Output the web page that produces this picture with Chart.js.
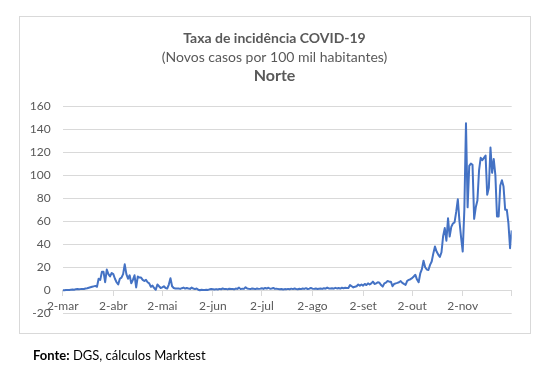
<!DOCTYPE html>
<html>
<head>
<meta charset="utf-8">
<script src="https://cdn.jsdelivr.net/npm/chart.js@4/dist/chart.umd.min.js"></script>
<style>
  body { margin: 0; background: #fff; width: 552px; height: 378px; position: relative; overflow: hidden; }
  #box { position: absolute; left: 19px; top: 16px; width: 510px; height: 316px; border: 1px solid #d9d9d9; }
  #chart { position: absolute; left: 0; top: 0; }
  #fonte { position: absolute; left: 33px; top: 347px; font: 13px/16px Lato, 'Open Sans', sans-serif; color: #000; }
</style>
</head>
<body>
<div id="box"></div>
<canvas id="chart" width="552" height="378"></canvas>
<div id="fonte"><b>Fonte:</b> DGS, cálculos Marktest</div>
<script>
// novos casos por 100 mil habitantes, Norte, um valor por dia
const mar = [0, 0, 0.2, 0.3, 0.3, 0.5, 0.6, 0.5, 0.8, 1, 0.9, 1, 1.2, 1.1, 1.5, 1.8, 2.2, 2.6, 3, 3.4, 3.8, 3, 10, 9, 16, 16, 7, 18, 14, 12] // 2 a 31
const abr = [15, 14, 10, 7, 5, 10, 11, 14, 22.5, 14, 10, 13, 6, 9, 13, 2.5, 12, 11, 11, 9, 8, 9, 7, 6, 3, 4, 2, 0.5, 5, 3.5]
const mai = [2, 2.5, 3.5, 2, 1.5, 5, 10.5, 3.5, 2, 1.5, 1.5, 1.5, 1.2, 1.8, 2.3, 1.5, 2, 1.5, 1.2, 2.3, 1.5, 1, 1.5, 0.5, 0, 0.5, 0.3, 0.2, 0.5, 0.3, 0.8]
const jun = [1, 0.8, 0.6, 1, 0.7, 1.2, 0.9, 1.5, 1, 1.2, 0.8, 1.4, 1.1, 1, 0.8, 1.5, 1.2, 2.3, 1, 1.4, 1.2, 2.6, 1.5, 1.2, 1, 1.6, 1.3, 1, 1.5, 1.2]
const jul = [1.4, 1.8, 1.2, 2, 1.5, 2.2, 1.3, 1.6, 2, 1.2, 1.4, 1, 0.8, 1.1, 0.7, 1, 0.8, 1.2, 0.9, 1.4, 1, 1.5, 1.1, 0.9, 1.3, 1, 1.6, 1.2, 1.8, 1.1, 1.4]
const ago = [2, 1.4, 1.2, 1.6, 1.1, 1.3, 1.5, 1.2, 1.8, 1.4, 2.3, 1.6, 1.5, 1.8, 1.4, 2.1, 1.6, 1.9, 1.5, 2.2, 1.8, 2.1, 2, 2, 4.5, 3.5, 2.5, 3, 3.5, 5, 4]
const set = [5, 4, 5.5, 4.5, 6, 5, 6, 7.5, 5.5, 6, 7, 6.5, 4.5, 3.2, 6, 6.7, 8, 7.5, 7.5, 3.5, 5.5, 6, 6.4, 7, 8, 6.4, 5.5, 4.7, 8.2, 9]
const out = [9.6, 10.5, 12, 13.4, 9.3, 7, 14.6, 18.4, 25.6, 20, 18, 17.6, 22, 25, 32, 38, 33.6, 31, 29, 33, 47, 54, 43, 62.5, 46.6, 55, 58, 59, 68, 79, 60]
const nov = [46, 33.6, 70, 145, 72, 108, 110, 109, 62, 72, 78, 104, 115, 113, 115, 117, 83, 89, 124, 102, 114, 100, 64, 64, 91, 95.5, 90, 70, 70, 58]
const dez = [36.5, 52] // 1 e 2

const meses = [mar, abr, mai, jun, jul, ago, set, out, nov, dez]
const xTickLabels = ['2-mar', '2-abr', '2-mai', '2-jun', '2-jul', '2-ago', '2-set', '2-out', '2-nov', '']
const yTicks = { min: -20, max: 160, step: 20 }

const titulo = 'Taxa de incidência COVID-19'
const subtitulo = '(Novos casos por 100 mil habitantes)'
const regiao = 'Norte'

// posição do dia 2 de cada mês (março começa no dia 2)
const diaDois = []
let offset = 0
meses.forEach((m, i) => {
  diaDois.push(i === 0 ? 0 : offset + 1)
  offset += m.length
})
const valores = meses.flat()
const pontos = valores.map((v, i) => ({ x: i, y: v }))

const textColor = '#595959'
const gridColor = '#d9d9d9'
const fontFamily = "Lato, 'Open Sans', sans-serif"

const titulos = {
  id: 'titulos',
  afterDraw(chart) {
    const c = chart.ctx
    c.save()
    c.fillStyle = textColor
    c.textAlign = 'center'
    c.textBaseline = 'middle'
    c.font = 'bold 14px ' + fontFamily
    c.fillText(titulo, 274.5, 38)
    c.font = '14px ' + fontFamily
    c.fillText(subtitulo, 274.5, 57)
    c.font = 'bold 16px ' + fontFamily
    c.fillText(regiao, 274.5, 76)
    c.restore()
  },
}

const ctx = document.getElementById('chart').getContext('2d')
new Chart(ctx, {
  type: 'line',
  data: {
    datasets: [
      {
        data: pontos,
        borderColor: '#4472c4',
        borderWidth: 2,
        borderJoinStyle: 'round',
        pointRadius: 0,
        tension: 0,
        fill: false,
      },
    ],
  },
  options: {
    responsive: false,
    animation: false,
    devicePixelRatio: 1,
    layout: { padding: { left: 22.7, right: 40.3, top: 106, bottom: 64.7 } },
    plugins: {
      legend: { display: false },
      tooltip: { enabled: false },
    },
    scales: {
      x: {
        type: 'linear',
        position: { y: 0 },
        min: 0,
        max: valores.length - 1,
        afterBuildTicks: (scale) => {
          scale.ticks = diaDois.map((v) => ({ value: v }))
        },
        afterFit: (scale) => {
          scale.height = 0
        },
        grid: { drawOnChartArea: false, drawTicks: true, tickLength: 5, color: gridColor },
        border: { display: true, color: gridColor, width: 1 },
        ticks: {
          autoSkip: false,
          maxRotation: 0,
          minRotation: 0,
          padding: 4,
          color: textColor,
          font: { family: fontFamily, size: 12 },
          callback: (value) => xTickLabels[diaDois.indexOf(value)],
        },
      },
      y: {
        min: yTicks.min,
        max: yTicks.max,
        afterFit: (scale) => {
          scale.width = 40
        },
        grid: { color: gridColor, drawTicks: false },
        border: { display: false },
        ticks: {
          stepSize: yTicks.step,
          padding: 12,
          color: textColor,
          font: { family: fontFamily, size: 12 },
        },
      },
    },
  },
  plugins: [titulos],
})
</script>
</body>
</html>
